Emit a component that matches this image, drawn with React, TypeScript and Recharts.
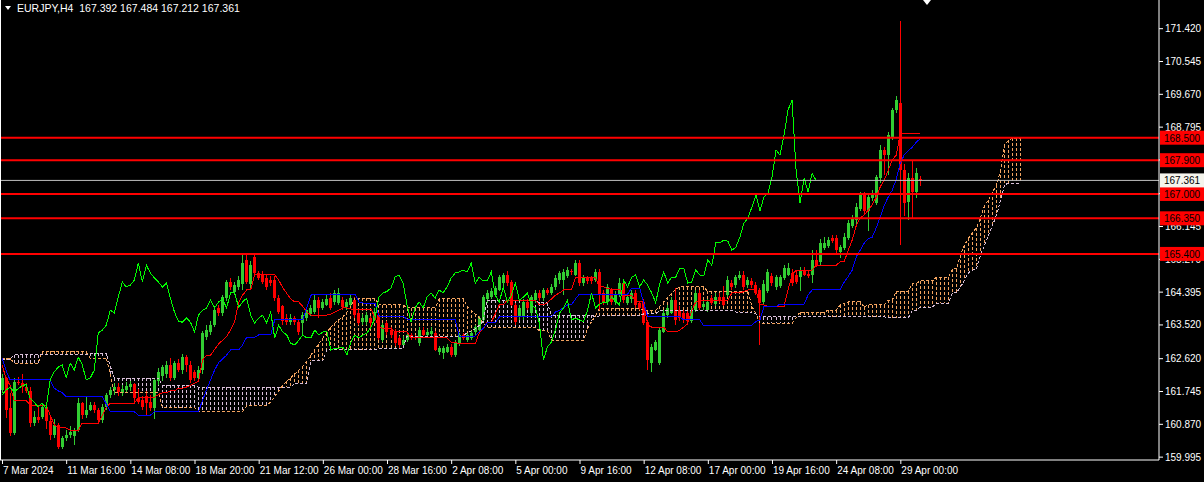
import { Bar, ComposedChart, Line, ReferenceLine, XAxis, YAxis } from "recharts";

// EURJPY H4, 7 Mar 2024 .. 30 Apr 2024 (one slot per 4h bar)
const opens = [
  161.77, 162.09, 161.30, 160.62, 161.99, 161.95, 161.85, 161.75, 160.89, 161.05,
  161.05, 161.32, 160.95, 160.57, 160.85, 160.25, 160.50, 160.58, 160.55, 160.70,
  161.42, 161.10, 161.24, 161.37, 161.24, 160.97, 161.32, 161.64, 161.77, 161.85,
  161.70, 161.78, 161.86, 161.92, 161.55, 161.50, 161.62, 161.45, 161.29, 162.00,
  162.15, 162.20, 162.44, 162.10, 162.49, 162.30, 162.65, 162.45, 162.25, 162.09,
  162.30, 163.19, 163.32, 163.50, 163.96, 163.82, 164.22, 164.65, 164.38, 164.52,
  164.60, 165.24, 164.60, 165.32, 164.89, 164.84, 164.76, 164.70, 164.70, 164.22,
  164.00, 163.69, 163.58, 163.69, 163.58, 163.55, 163.69, 163.80, 163.85, 164.17,
  163.96, 164.04, 164.22, 164.12, 164.10, 164.17, 163.98, 164.04, 164.17, 163.82,
  163.58, 163.58, 163.69, 163.64, 163.77, 163.10, 163.56, 163.37, 163.32, 163.16,
  162.97, 163.10, 163.24, 163.18, 163.02, 163.37, 163.24, 163.26, 163.29, 162.79,
  162.76, 162.79, 162.92, 162.71, 163.02, 163.24, 163.10, 163.16, 163.32, 163.37,
  163.64, 164.20, 164.25, 164.30, 164.44, 164.62, 164.84, 164.65, 164.04, 163.72,
  163.72, 164.12, 163.82, 164.17, 164.36, 164.22, 164.44, 164.36, 164.52, 164.70,
  164.70, 164.81, 164.95, 164.84, 165.16, 164.62, 164.76, 164.76, 164.70, 164.92,
  164.36, 164.12, 164.44, 164.12, 164.30, 164.62, 164.10, 164.20, 164.36, 164.10,
  164.12, 163.58, 162.49, 162.84, 162.49, 163.32, 163.77, 163.82, 164.17, 163.90,
  163.82, 163.82, 163.60, 163.90, 164.36, 163.98, 163.90, 164.22, 164.06, 164.25,
  164.25, 164.30, 164.62, 164.58, 164.76, 164.84, 164.58, 164.68, 164.57, 164.44,
  164.12, 164.40, 164.80, 164.52, 164.55, 164.76, 164.84, 164.90, 164.84, 164.78,
  164.97, 164.86, 164.84, 165.24, 165.19, 165.55, 165.60, 165.82, 165.82, 165.45,
  165.56, 165.82, 166.15, 166.30, 166.60, 166.97, 166.55, 166.88, 166.76, 167.42,
  168.17, 168.04, 168.52, 169.24, 169.42, 167.64, 166.78, 167.42, 167.05, 167.392,
];

const highs = [
  162.20, 162.12, 161.70, 162.10, 162.12, 162.20, 161.95, 161.85, 161.20, 161.35,
  161.40, 161.35, 161.05, 161.00, 160.90, 160.55, 160.70, 160.80, 160.75, 161.55,
  161.45, 161.58, 161.45, 161.45, 161.30, 161.40, 161.70, 161.85, 161.95, 161.95,
  161.90, 161.98, 162.00, 161.96, 161.80, 161.60, 161.75, 161.65, 162.10, 162.35,
  162.45, 162.55, 162.62, 162.55, 162.60, 162.72, 162.70, 162.55, 162.30, 162.40,
  163.35, 163.50, 163.60, 164.00, 164.05, 164.30, 164.70, 164.75, 164.65, 164.80,
  165.37, 165.37, 165.20, 165.43, 164.95, 164.95, 164.85, 164.80, 164.80, 164.30,
  164.05, 163.80, 163.80, 163.75, 163.65, 163.85, 163.95, 164.05, 164.30, 164.25,
  164.20, 164.30, 164.35, 164.45, 164.50, 164.25, 164.20, 164.30, 164.25, 163.90,
  163.80, 163.85, 163.75, 163.95, 163.85, 163.55, 163.60, 163.45, 163.40, 163.20,
  163.20, 163.30, 163.30, 163.25, 163.45, 163.45, 163.40, 163.45, 163.35, 162.95,
  162.95, 163.00, 163.00, 163.10, 163.30, 163.30, 163.30, 163.35, 163.50, 163.75,
  164.30, 164.45, 164.50, 164.55, 164.85, 164.90, 164.95, 164.70, 164.10, 164.05,
  164.20, 164.20, 164.30, 164.45, 164.45, 164.50, 164.50, 164.60, 164.85, 164.95,
  165.00, 165.05, 165.00, 165.25, 165.25, 164.85, 164.80, 164.80, 165.00, 165.00,
  164.45, 164.60, 164.50, 164.40, 164.75, 164.70, 164.30, 164.45, 164.45, 164.15,
  164.20, 163.65, 163.00, 163.10, 163.45, 163.90, 164.05, 164.25, 164.50, 164.00,
  163.90, 163.90, 164.00, 164.45, 164.45, 164.15, 164.20, 164.30, 164.35, 164.35,
  164.55, 164.80, 164.70, 164.85, 164.95, 164.95, 164.78, 164.75, 164.65, 164.50,
  164.70, 165.00, 164.90, 164.85, 164.85, 165.10, 165.15, 165.00, 164.95, 165.05,
  165.05, 164.95, 165.50, 165.50, 165.80, 165.85, 165.85, 165.90, 165.90, 165.65,
  165.95, 166.30, 166.45, 166.75, 167.05, 167.05, 167.00, 167.10, 167.50, 168.30,
  168.25, 168.65, 169.30, 169.60, 171.60, 167.80, 167.55, 167.90, 167.70, 167.484,
];

const lows = [
  161.70, 161.02, 160.55, 160.58, 161.90, 161.70, 161.70, 160.78, 160.80, 160.90,
  161.00, 160.72, 160.45, 160.50, 160.20, 160.20, 160.40, 160.50, 160.30, 160.65,
  161.00, 161.02, 161.20, 161.15, 160.90, 160.90, 161.25, 161.55, 161.65, 161.62,
  161.60, 161.70, 161.75, 161.45, 161.40, 161.25, 161.10, 161.20, 161.00, 161.90,
  162.00, 162.10, 162.00, 162.05, 162.25, 162.20, 162.25, 161.95, 162.00, 162.05,
  162.20, 163.10, 163.25, 163.45, 163.75, 163.75, 164.15, 164.45, 164.30, 164.45,
  164.45, 164.60, 164.50, 164.80, 164.70, 164.60, 164.45, 164.55, 164.15, 163.80,
  163.50, 163.50, 163.50, 163.50, 163.25, 163.25, 163.60, 163.75, 163.80, 163.70,
  163.90, 164.00, 163.90, 164.05, 164.05, 163.90, 163.90, 164.00, 163.70, 163.50,
  163.50, 163.50, 163.45, 163.60, 163.10, 163.05, 163.25, 163.15, 162.95, 162.90,
  162.90, 163.05, 163.10, 163.10, 162.95, 163.20, 163.20, 163.20, 162.80, 162.70,
  162.60, 162.75, 162.65, 162.65, 162.95, 163.10, 163.05, 163.10, 163.25, 163.30,
  163.60, 164.10, 164.20, 164.25, 164.40, 164.55, 164.55, 164.00, 163.50, 163.65,
  163.65, 163.90, 163.75, 164.10, 164.15, 164.15, 164.30, 164.30, 164.45, 164.60,
  164.30, 164.75, 164.85, 164.80, 164.55, 164.55, 164.60, 164.60, 164.65, 163.90,
  164.05, 164.05, 164.05, 164.05, 164.25, 164.10, 164.05, 164.10, 163.95, 163.90,
  163.50, 162.30, 162.25, 162.80, 162.45, 163.30, 163.70, 163.80, 163.50, 163.60,
  163.55, 163.50, 163.55, 163.85, 163.90, 163.90, 163.85, 164.05, 164.00, 164.10,
  164.00, 164.25, 164.45, 164.50, 164.70, 164.45, 164.50, 164.50, 164.30, 162.97,
  164.05, 164.35, 164.55, 164.45, 164.50, 164.70, 164.80, 164.55, 164.60, 164.40,
  164.80, 164.75, 164.62, 165.05, 165.10, 165.50, 165.55, 165.70, 165.40, 165.30,
  165.50, 165.78, 166.10, 166.20, 166.55, 166.45, 166.00, 166.80, 166.70, 167.30,
  167.50, 167.50, 168.45, 169.15, 165.65, 166.40, 166.30, 166.36, 166.90, 167.212,
];

const closes = [
  162.09, 161.24, 160.62, 161.99, 161.95, 161.85, 161.75, 160.89, 161.05, 160.97,
  161.32, 160.95, 160.57, 160.85, 160.25, 160.50, 160.58, 160.66, 160.70, 161.42,
  161.10, 161.24, 161.37, 161.24, 160.97, 161.32, 161.64, 161.77, 161.85, 161.72,
  161.80, 161.88, 161.92, 161.55, 161.45, 161.32, 161.42, 161.29, 162.04, 162.25,
  162.38, 162.44, 162.10, 162.49, 162.30, 162.65, 162.45, 162.04, 162.09, 162.30,
  163.29, 163.37, 163.50, 163.90, 163.82, 164.25, 164.65, 164.52, 164.57, 164.70,
  165.16, 164.65, 165.10, 164.89, 164.76, 164.65, 164.52, 164.62, 164.22, 163.85,
  163.60, 163.58, 163.69, 163.58, 163.32, 163.77, 163.90, 163.95, 164.17, 163.96,
  164.12, 164.20, 163.96, 164.36, 164.36, 163.98, 164.12, 164.22, 163.77, 163.56,
  163.69, 163.77, 163.56, 163.85, 163.16, 163.50, 163.32, 163.24, 163.02, 162.97,
  163.10, 163.24, 163.16, 163.16, 163.37, 163.24, 163.32, 163.34, 162.84, 162.89,
  162.89, 162.92, 162.71, 163.05, 163.24, 163.16, 163.24, 163.29, 163.45, 163.69,
  164.25, 164.36, 164.40, 164.49, 164.78, 164.84, 164.62, 164.04, 163.58, 163.96,
  164.12, 163.96, 164.25, 164.36, 164.22, 164.44, 164.36, 164.52, 164.76, 164.89,
  164.92, 164.97, 164.92, 165.16, 164.62, 164.78, 164.68, 164.68, 164.92, 164.30,
  164.12, 164.52, 164.12, 164.30, 164.62, 164.17, 164.25, 164.36, 164.04, 163.96,
  163.56, 162.57, 162.92, 163.05, 163.37, 163.82, 163.96, 164.17, 163.64, 163.69,
  163.64, 163.60, 163.90, 164.36, 163.96, 164.06, 164.12, 164.10, 164.25, 164.14,
  164.04, 164.70, 164.52, 164.78, 164.84, 164.52, 164.70, 164.57, 164.36, 164.10,
  164.60, 164.92, 164.63, 164.78, 164.78, 165.02, 165.02, 164.62, 164.65, 164.97,
  164.84, 164.82, 165.24, 165.10, 165.70, 165.70, 165.77, 165.74, 165.50, 165.58,
  165.85, 166.22, 166.36, 166.65, 166.97, 166.55, 166.92, 167.02, 167.45, 168.17,
  168.04, 168.57, 169.24, 169.50, 167.64, 166.76, 167.42, 167.05, 167.55, 167.361,
];

// Ichimoku: Tenkan-sen (red), Kijun-sen (blue)
const tenkan = [
  162.44, 162.09, 161.90, 161.50, 161.50, 161.50, 161.50, 161.37, 161.37, 161.37,
  161.37, 161.37, 161.10, 160.85, 160.76, 160.76, 160.76, 160.70, 160.70, 160.70,
  160.89, 160.89, 160.89, 160.89, 160.89, 161.10, 161.30, 161.42, 161.42, 161.42,
  161.42, 161.42, 161.42, 161.42, 161.58, 161.58, 161.58, 161.58, 161.58, 161.65,
  161.70, 161.70, 161.75, 161.75, 161.82, 161.82, 161.85, 161.90, 161.95, 162.00,
  162.57, 162.70, 162.70, 162.85, 163.00, 163.10, 163.20, 163.37, 163.60, 164.09,
  164.30, 164.44, 164.44, 164.84, 164.84, 164.84, 164.84, 164.84, 164.84, 164.70,
  164.50, 164.35, 164.20, 164.12, 164.12, 164.00, 163.85, 163.77, 163.77, 163.77,
  163.77, 163.77, 163.80, 163.85, 163.90, 163.96, 163.96, 163.93, 163.93, 163.93,
  163.93, 163.93, 163.93, 163.70, 163.45, 163.42, 163.42, 163.42, 163.32, 163.32,
  163.32, 163.32, 163.16, 163.16, 163.16, 163.16, 163.16, 163.16, 163.16, 163.16,
  163.16, 163.16, 163.05, 163.05, 163.00, 163.00, 163.00, 163.00, 163.00, 163.29,
  163.40, 163.58, 163.58, 163.80, 164.04, 164.04, 164.17, 164.17, 164.17, 164.17,
  164.17, 164.17, 164.17, 164.17, 164.04, 164.04, 164.10, 164.20, 164.30, 164.36,
  164.44, 164.44, 164.44, 164.76, 164.76, 164.76, 164.76, 164.76, 164.76, 164.52,
  164.52, 164.48, 164.45, 164.45, 164.45, 164.30, 164.30, 164.30, 164.12, 164.12,
  164.12, 163.50, 163.45, 163.45, 163.45, 163.45, 163.32, 163.32, 163.32, 163.37,
  163.45, 163.56, 163.90, 164.12, 164.17, 164.17, 164.17, 164.17, 164.17, 164.17,
  164.17, 164.17, 164.36, 164.36, 164.36, 164.40, 164.44, 164.44, 164.44, 164.04,
  164.04, 164.00, 164.00, 164.00, 164.00, 164.00, 164.44, 164.84, 164.97, 164.97,
  164.97, 164.97, 164.97, 165.10, 165.10, 165.10, 165.10, 165.10, 165.10, 165.19,
  165.19, 165.50, 165.77, 166.15, 166.36, 166.44, 166.57, 166.71, 166.92, 167.19,
  167.37, 167.64, 167.90, 168.04, 168.62, 168.62, 168.62, 168.62, 168.62, 168.62,
];

const kijun = [
  162.62, 162.30, 162.04, 162.04, 162.04, 162.04, 162.04, 162.04, 162.04, 162.04,
  162.04, 162.04, 162.04, 161.82, 161.75, 161.70, 161.60, 161.60, 161.60, 161.60,
  161.60, 161.60, 161.60, 161.60, 161.60, 161.60, 161.40, 161.19, 161.19, 161.19,
  161.19, 161.19, 161.19, 161.19, 161.10, 161.10, 161.10, 161.10, 161.19, 161.19,
  161.19, 161.19, 161.19, 161.19, 161.19, 161.19, 161.19, 161.19, 161.19, 161.19,
  161.50, 161.77, 162.04, 162.30, 162.50, 162.60, 162.70, 162.84, 162.84, 162.84,
  162.97, 163.18, 163.18, 163.18, 163.24, 163.24, 163.24, 163.24, 163.64, 163.64,
  163.64, 163.64, 163.64, 163.64, 163.64, 163.64, 163.97, 164.30, 164.33, 164.33,
  164.33, 164.33, 164.33, 164.33, 164.33, 164.33, 164.33, 164.33, 164.33, 164.12,
  164.09, 164.09, 164.09, 164.09, 163.74, 163.74, 163.74, 163.74, 163.74, 163.74,
  163.74, 163.66, 163.66, 163.66, 163.66, 163.66, 163.66, 163.66, 163.66, 163.66,
  163.66, 163.66, 163.66, 163.66, 163.21, 163.21, 163.21, 163.21, 163.21, 163.32,
  163.42, 163.56, 163.56, 163.56, 163.72, 163.72, 163.72, 163.72, 163.72, 163.72,
  163.72, 163.72, 163.72, 163.72, 163.72, 163.72, 163.72, 163.72, 163.85, 163.90,
  163.96, 164.04, 164.04, 164.20, 164.33, 164.33, 164.33, 164.33, 164.33, 164.33,
  164.33, 164.33, 164.33, 164.33, 164.33, 164.33, 164.33, 164.49, 164.49, 164.49,
  164.10, 163.72, 163.72, 163.72, 163.72, 163.72, 163.72, 163.72, 163.72, 163.72,
  163.64, 163.64, 163.64, 163.64, 163.64, 163.48, 163.48, 163.48, 163.48, 163.48,
  163.48, 163.50, 163.50, 163.50, 163.50, 163.50, 163.50, 163.50, 163.60, 163.64,
  164.00, 164.00, 164.00, 164.00, 164.06, 164.06, 164.06, 164.06, 164.06, 164.06,
  164.06, 164.30, 164.44, 164.44, 164.44, 164.44, 164.44, 164.44, 164.44, 164.44,
  164.65, 164.80, 164.97, 165.32, 165.50, 165.69, 165.80, 165.85, 166.10, 166.39,
  166.70, 166.92, 167.10, 167.40, 167.82, 168.05, 168.15, 168.25, 168.38, 168.48,
];

// Senkou Span A / B, already placed at their forward-shifted slots
const spanA = [
  162.62, 162.62, 162.62, 162.49, 162.49, 162.49, 162.49, 162.49, 162.49, 162.49,
  162.80, 162.80, 162.80, 162.80, 162.80, 162.80, 162.80, 162.80, 162.80, 162.80,
  162.80, 162.80, 162.62, 162.62, 162.62, 162.62, 162.62, 162.20, 161.70, 161.70,
  161.70, 161.70, 161.70, 161.70, 161.70, 161.70, 161.70, 161.70, 161.70, 161.70,
  161.30, 161.30, 161.30, 161.30, 161.30, 161.30, 161.30, 161.30, 161.30, 161.20,
  161.20, 161.20, 161.20, 161.20, 161.20, 161.20, 161.20, 161.20, 161.20, 161.20,
  161.20, 161.35, 161.35, 161.35, 161.35, 161.35, 161.35, 161.45, 161.60, 161.75,
  161.90, 162.00, 162.10, 162.20, 162.30, 162.40, 162.55, 162.70, 162.85, 163.00,
  163.15, 163.30, 163.45, 163.55, 163.65, 163.72, 163.85, 164.00, 164.22, 164.22,
  164.22, 164.22, 164.22, 164.22, 164.04, 164.04, 164.04, 164.04, 164.04, 164.04,
  164.04, 163.96, 163.96, 163.96, 163.96, 163.96, 163.96, 163.96, 163.96, 164.20,
  164.20, 164.20, 164.20, 164.20, 164.20, 164.20, 164.00, 163.90, 163.80, 163.70,
  163.55, 163.45, 163.45, 163.45, 163.45, 163.45, 163.45, 163.45, 163.45, 163.45,
  163.45, 163.45, 163.45, 163.45, 163.35, 163.35, 163.35, 163.10, 163.10, 163.10,
  163.10, 163.10, 163.10, 163.10, 163.10, 163.10, 163.40, 163.60, 163.75, 163.95,
  163.95, 163.95, 163.95, 163.95, 163.95, 163.95, 163.95, 163.95, 163.95, 163.95,
  163.90, 163.90, 163.90, 163.90, 164.00, 164.12, 164.25, 164.35, 164.45, 164.52,
  164.52, 164.52, 164.52, 164.52, 164.52, 164.52, 164.40, 164.40, 164.40, 164.40,
  164.40, 164.40, 164.40, 164.40, 164.40, 164.40, 164.40, 164.00, 163.80, 163.55,
  163.55, 163.55, 163.55, 163.55, 163.55, 163.55, 163.55, 163.55, 163.70, 163.85,
  163.85, 163.85, 163.85, 163.85, 163.85, 163.85, 163.90, 163.90, 163.90, 164.04,
  164.08, 164.12, 164.12, 164.12, 164.12, 163.98, 164.04, 164.04, 164.04, 164.04,
  164.04, 164.17, 164.17, 164.40, 164.40, 164.40, 164.40, 164.62, 164.62, 164.68,
  164.68, 164.68, 164.68, 164.78, 164.78, 164.78, 164.78, 165.00, 165.00, 165.37,
  165.64, 165.82, 165.98, 166.09, 166.36, 166.70, 166.84, 167.05, 167.24, 167.64,
  168.30, 168.44, 168.49, 168.49, 168.49,
];

const spanB = [
  162.58, 162.58, 162.58, 162.71, 162.71, 162.71, 162.71, 162.71, 162.71, 162.71,
  162.72, 162.72, 162.72, 162.72, 162.72, 162.72, 162.72, 162.72, 162.72, 162.72,
  162.72, 162.72, 162.75, 162.75, 162.75, 162.75, 162.75, 162.40, 162.09, 162.09,
  162.09, 162.09, 162.09, 162.09, 162.09, 162.09, 162.09, 162.09, 162.09, 162.09,
  161.90, 161.90, 161.90, 161.90, 161.90, 161.90, 161.90, 161.90, 161.90, 161.85,
  161.85, 161.85, 161.85, 161.85, 161.85, 161.85, 161.85, 161.85, 161.85, 161.85,
  161.85, 161.85, 161.85, 161.85, 161.85, 161.85, 161.85, 161.85, 161.85, 161.85,
  161.85, 161.85, 161.85, 161.95, 161.95, 161.95, 161.95, 162.55, 162.55, 162.55,
  162.55, 162.84, 162.84, 162.84, 162.84, 162.84, 162.84, 162.84, 162.84, 162.84,
  162.84, 162.84, 162.84, 162.84, 162.89, 162.89, 162.89, 162.89, 162.89, 162.89,
  162.89, 163.21, 163.21, 163.21, 163.21, 163.21, 163.21, 163.21, 163.21, 163.21,
  163.21, 163.21, 163.21, 163.21, 163.21, 163.21, 163.30, 163.35, 163.40, 163.50,
  163.60, 164.17, 164.17, 164.17, 164.17, 164.17, 164.17, 164.17, 164.17, 164.17,
  164.17, 164.17, 164.17, 164.17, 164.10, 164.10, 164.10, 163.77, 163.77, 163.77,
  163.77, 163.77, 163.77, 163.77, 163.77, 163.77, 163.77, 163.77, 163.72, 163.75,
  163.75, 163.75, 163.75, 163.75, 163.75, 163.75, 163.75, 163.75, 163.75, 163.75,
  163.80, 163.80, 163.80, 163.80, 163.90, 163.90, 163.90, 163.90, 163.90, 163.90,
  163.90, 163.90, 163.90, 163.90, 163.90, 163.90, 163.90, 163.90, 163.90, 163.90,
  163.90, 163.90, 163.90, 163.85, 163.85, 163.85, 163.85, 163.85, 163.80, 163.72,
  163.72, 163.72, 163.72, 163.72, 163.72, 163.72, 163.72, 163.72, 163.72, 163.72,
  163.72, 163.72, 163.72, 163.72, 163.72, 163.72, 163.72, 163.72, 163.72, 163.72,
  163.72, 163.72, 163.72, 163.72, 163.72, 163.72, 163.72, 163.72, 163.72, 163.72,
  163.72, 163.70, 163.70, 163.70, 163.70, 163.70, 163.70, 163.90, 163.90, 163.98,
  163.98, 163.98, 163.98, 164.09, 164.09, 164.09, 164.09, 164.36, 164.36, 164.52,
  164.70, 164.90, 164.97, 165.02, 165.37, 165.64, 165.90, 166.17, 166.44, 166.84,
  167.24, 167.29, 167.29, 167.29, 167.29,
];

const levelLines = [168.5, 167.9, 167.0, 166.35, 165.4];
const bidPrice = 167.361;
const priceTicks = [
  171.42, 170.545, 169.67, 168.795, 167.92, 167.02, 166.145, 165.27, 164.395,
  163.52, 162.62, 161.745, 160.87, 159.995,
];
const timeTickSlots = [0, 16, 32, 48, 64, 80, 96, 112, 128, 144, 160, 176, 192, 208, 224];
const timeLabels = [
  "7 Mar 2024", "11 Mar 16:00", "14 Mar 08:00", "18 Mar 20:00", "21 Mar 12:00",
  "26 Mar 00:00", "28 Mar 16:00", "2 Apr 08:00", "5 Apr 00:00", "9 Apr 16:00",
  "12 Apr 08:00", "17 Apr 00:00", "19 Apr 16:00", "24 Apr 08:00", "29 Apr 00:00",
];

const SLOTS = 289;
const CHIKOU_SHIFT = 26;
const FONT = "'Liberation Sans', Arial, sans-serif";
const BULL = "#32CD32";
const BEAR = "#FF0000";
const SANDY = "#F4A460";
const THISTLE = "#D8BFD8";

const rows = Array.from({ length: SLOTS }, (_, i) => {
  const a = spanA[i];
  const b = spanB[i];
  const has = i < closes.length;
  return {
    i,
    open: has ? opens[i] : null,
    high: has ? highs[i] : null,
    low: has ? lows[i] : null,
    close: has ? closes[i] : null,
    candle: has ? [lows[i], highs[i]] : null,
    tenkan: tenkan[i] ?? null,
    kijun: kijun[i] ?? null,
    chikou: closes[i + CHIKOU_SHIFT] ?? null,
    spanA: a ?? null,
    spanB: b ?? null,
    kumo: a != null ? [Math.min(a, b), Math.max(a, b)] : null,
  };
});

function Candle(props: any) {
  const { x, y, width, height, payload } = props;
  if (!payload || payload.high == null || !Number.isFinite(y)) return <g />;
  const top = Math.min(y, y + height);
  const h = Math.abs(height);
  const span = payload.high - payload.low || 1;
  const py = (v: number) => top + ((payload.high - v) / span) * h;
  const up = payload.close >= payload.open;
  const color = up ? BULL : BEAR;
  const cx = Math.floor(x + width / 2);
  const bTop = py(Math.max(payload.open, payload.close));
  const bBot = py(Math.min(payload.open, payload.close));
  return (
    <g shapeRendering="crispEdges">
      <rect x={cx} y={top} width={1} height={Math.max(1, h)} fill={color} />
      <rect x={cx - 1} y={bTop} width={3} height={Math.max(1, bBot - bTop)} fill={color} />
    </g>
  );
}

function KumoStroke(props: any) {
  const { x, y, width, height, payload } = props;
  if (!payload || payload.spanA == null || !Number.isFinite(y)) return <g />;
  const top = Math.min(y, y + height);
  const h = Math.abs(height);
  const cx = Math.floor(x + width / 2) + 0.5;
  const color = payload.spanA >= payload.spanB ? SANDY : THISTLE;
  return (
    <line
      x1={cx}
      x2={cx}
      y1={top}
      y2={top + h}
      stroke={color}
      strokeWidth={1}
      strokeDasharray="3 2"
      shapeRendering="crispEdges"
    />
  );
}

function PriceTick(props: any) {
  const { x, y, payload } = props;
  const v = payload.value;
  const label = Number(v).toFixed(3);
  if (levelLines.includes(v)) {
    return (
      <g>
        <rect x={x + 1} y={y - 7} width={44} height={14} fill="#FF0000" />
        <text x={x + 5} y={y + 4} fill="#000000" fontSize={10} fontFamily={FONT}>
          {label}
        </text>
      </g>
    );
  }
  if (v === bidPrice) {
    return (
      <g>
        <rect x={x + 1} y={y - 7} width={44} height={14} fill="#F4F4EC" />
        <text x={x + 5} y={y + 4} fill="#000000" fontSize={10} fontFamily={FONT}>
          {label}
        </text>
      </g>
    );
  }
  return (
    <g>
      <line x1={x} x2={x + 4} y1={y + 0.5} y2={y + 0.5} stroke="#FFFFFF" />
      <text x={x + 6} y={y + 4} fill="#FFFFFF" fontSize={10} fontFamily={FONT}>
        {label}
      </text>
    </g>
  );
}

function TimeTick(props: any) {
  const { x, y, payload } = props;
  const idx = timeTickSlots.indexOf(payload.value);
  return (
    <g>
      <line x1={x + 0.5} x2={x + 0.5} y1={y} y2={y + 4} stroke="#FFFFFF" />
      <text x={x + 1} y={y + 14} fill="#FFFFFF" fontSize={10} fontFamily={FONT} textAnchor="start">
        {timeLabels[idx]}
      </text>
    </g>
  );
}

export default function App() {
  return (
    <div
      style={{
        position: "absolute",
        left: 0,
        top: 0,
        width: 1204,
        height: 482,
        background: "#000000",
        overflow: "hidden",
        fontFamily: FONT,
      }}
    >
      <ComposedChart
        width={1204}
        height={482}
        data={rows}
        margin={{ top: 0, right: 0, bottom: 0, left: 0 }}
        barGap={-4}
        barCategoryGap={0}
      >
        <XAxis
          dataKey="i"
          type="category"
          ticks={timeTickSlots}
          interval={0}
          tick={<TimeTick />}
          tickLine={false}
          tickSize={0}
          tickMargin={0}
          axisLine={{ stroke: "#FFFFFF" }}
          height={22}
        />
        <XAxis xAxisId="kumo" dataKey="i" type="category" hide />
        <YAxis
          orientation="right"
          type="number"
          domain={[159.905, 172.172]}
          allowDataOverflow
          ticks={[...priceTicks, ...levelLines, bidPrice]}
          interval={0}
          width={45}
          tick={<PriceTick />}
          tickLine={false}
          tickSize={0}
          tickMargin={0}
          axisLine={{ stroke: "#FFFFFF" }}
        />
        <Bar
          xAxisId="kumo"
          dataKey="kumo"
          barSize={4}
          shape={(p: any) => <KumoStroke {...p} />}
          isAnimationActive={false}
        />
        <Line
          dataKey="spanA"
          stroke={SANDY}
          strokeWidth={1}
          strokeDasharray="3 2"
          shapeRendering="crispEdges"
          dot={false}
          activeDot={false}
          isAnimationActive={false}
        />
        <Line
          dataKey="spanB"
          stroke={THISTLE}
          strokeWidth={1}
          strokeDasharray="3 2"
          shapeRendering="crispEdges"
          dot={false}
          activeDot={false}
          isAnimationActive={false}
        />
        <Bar
          dataKey="candle"
          barSize={4}
          shape={(p: any) => <Candle {...p} />}
          isAnimationActive={false}
        />
        <Line
          dataKey="tenkan"
          stroke="#FF0000"
          strokeWidth={1}
          shapeRendering="crispEdges"
          dot={false}
          activeDot={false}
          isAnimationActive={false}
        />
        <Line
          dataKey="kijun"
          stroke="#0000FF"
          strokeWidth={1}
          shapeRendering="crispEdges"
          dot={false}
          activeDot={false}
          isAnimationActive={false}
        />
        <Line
          dataKey="chikou"
          stroke="#00FF00"
          strokeWidth={1}
          shapeRendering="crispEdges"
          dot={false}
          activeDot={false}
          isAnimationActive={false}
        />
        <ReferenceLine y={bidPrice} stroke="#C0C0C0" strokeWidth={1} />
        {levelLines.map((p) => (
          <ReferenceLine key={p} y={p} stroke="#FF0000" strokeWidth={2} />
        ))}
      </ComposedChart>

      <div style={{ position: "absolute", left: 0, top: 0, width: 1, height: 460, background: "#FFFFFF" }} />
      <div
        style={{
          position: "absolute",
          left: 923,
          top: 0,
          width: 0,
          height: 0,
          borderLeft: "4px solid transparent",
          borderRight: "4px solid transparent",
          borderTop: "5px solid #FFFFFF",
        }}
      />
      <div
        style={{
          position: "absolute",
          left: 5,
          top: 6,
          width: 0,
          height: 0,
          borderLeft: "3px solid transparent",
          borderRight: "3px solid transparent",
          borderTop: "4px solid #FFFFFF",
        }}
      />
      <div
        style={{
          position: "absolute",
          left: 17,
          top: 2,
          color: "#FFFFFF",
          fontSize: 10.5,
          lineHeight: "12px",
          whiteSpace: "pre",
        }}
      >
        {"EURJPY,H4  167.392 167.484 167.212 167.361"}
      </div>
    </div>
  );
}
